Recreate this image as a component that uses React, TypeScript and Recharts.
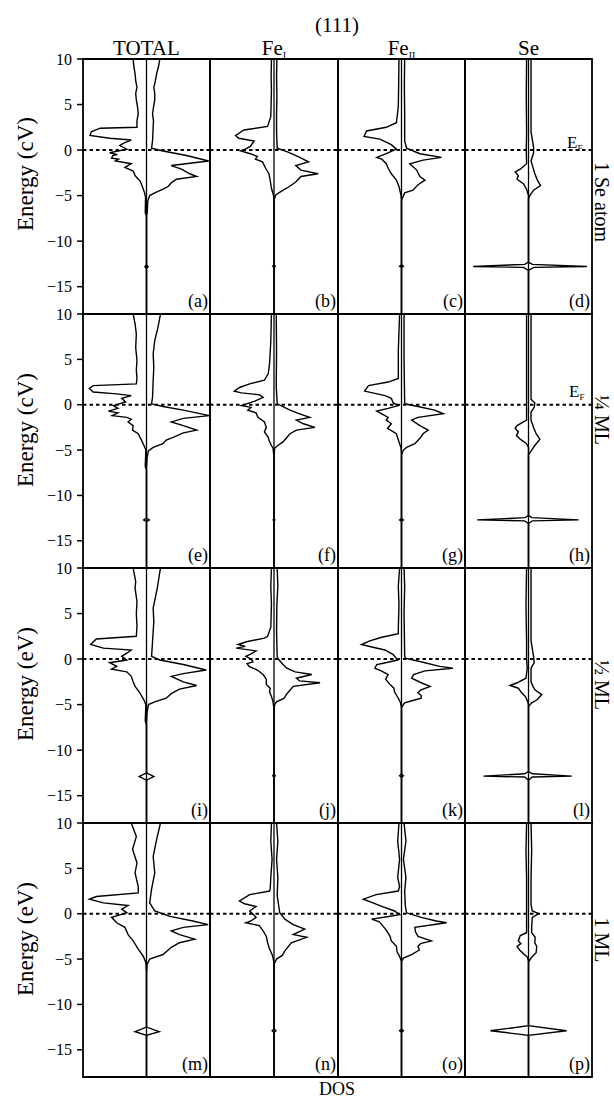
import * as React from "react";
import { ScatterChart, Scatter, XAxis, YAxis, ReferenceLine, ReferenceArea } from "recharts";

// [energy (eV), DOS] pairs, spin up drawn to the left (negative), spin down to the right
type P = [number, number];

const energyTicks = [-15, -10, -5, 0, 5, 10];
const energyDomain = [-18, 10];
const dosDomain = [-10, 10];
const columnNames = ["TOTAL", "Fe", "Fe", "Se"];
const columnSubs = ["", "I", "II", ""];
const rowNames = ["1 Se atom", "\u00BC ML", "\u00BD ML", "1 ML"];
const energyTitles = ["Energy (cV)", "Energy (cV)", "Energy (eV)", "Energy (eV)"];
const panelLetters = [
  ["a", "b", "c", "d"],
  ["e", "f", "g", "h"],
  ["i", "j", "k", "l"],
  ["m", "n", "o", "p"],
];

// ---- row 1: 1 Se atom ----
const totalUp1: P[] = [[10,-2.1],[9.2,-2.0],[8.4,-1.8],[7.6,-1.7],[6.9,-1.5],[6.2,-1.7],[5.5,-1.6],[4.7,-1.4],[4.0,-1.3],[3.2,-1.5],[2.5,-1.5],[2.4,-7.3],[2.0,-8.7],[1.6,-8.9],[1.3,-5.8],[1.1,-2.4],[0.8,-3.5],[0.5,-4.2],[0.1,-3.1],[-0.3,-5.8],[-0.5,-4.6],[-0.6,-5.3],[-0.9,-5.5],[-1.0,-4.4],[-1.2,-4.9],[-1.5,-2.4],[-1.9,-3.4],[-2.3,-2.1],[-2.8,-1.8],[-3.4,-1.0],[-4.1,-0.6],[-4.7,-0.3],[-5.2,-0.15],[-6.9,-0.2],[-7.2,0],[-12.6,0],[-12.8,-0.25],[-13.0,0],[-18,0]];
const totalDn1: P[] = [[10,2.1],[9.2,1.9],[8.4,1.6],[7.6,1.4],[6.9,1.15],[6.2,1.3],[5.5,1.3],[4.7,1.1],[4.0,0.95],[3.2,1.1],[2.5,1.05],[1.8,1.0],[1.0,0.95],[0.2,0.8],[-0.1,2.6],[-0.6,6.3],[-1.2,9.8],[-1.7,3.9],[-2.1,5.5],[-2.6,6.8],[-2.9,7.9],[-3.2,4.7],[-3.6,3.9],[-4.0,3.4],[-4.3,2.6],[-4.7,1.3],[-5.0,0.5],[-5.6,0.2],[-7.0,0.1],[-7.2,0],[-12.6,0],[-12.8,0.25],[-13.0,0],[-18,0]];
const feIUp1: P[] = [[10,-0.4],[8,-0.45],[6.6,-0.4],[5,-0.45],[3.7,-0.5],[2.6,-1.0],[2.2,-4.7],[1.6,-6.0],[1.3,-5.5],[1.0,-3.1],[0.4,-3.7],[0.1,-4.5],[-0.1,-5.2],[-0.4,-3.7],[-0.7,-2.6],[-1.0,-2.9],[-1.3,-1.8],[-2.0,-1.3],[-2.6,-0.8],[-3.3,-0.6],[-4.2,-0.4],[-4.9,-0.1],[-5.5,0],[-12.6,0],[-12.75,-0.2],[-12.9,0],[-18,0]];
const feIDn1: P[] = [[10,0.45],[8,0.4],[6,0.45],[4,0.4],[2,0.4],[0.2,0.5],[-0.2,2.1],[-0.7,3.7],[-1.3,5.4],[-1.7,3.4],[-2.2,4.2],[-2.6,6.9],[-2.9,4.2],[-3.5,3.4],[-4.0,2.4],[-4.6,1.0],[-4.9,0.3],[-5.5,0],[-12.6,0],[-12.75,0.2],[-12.9,0],[-18,0]];
const feIIUp1: P[] = [[10,-0.4],[7,-0.45],[4.8,-0.5],[3.0,-0.8],[2.5,-2.4],[2.1,-5.5],[1.5,-5.9],[1.2,-3.4],[0.6,-1.6],[0.1,-0.8],[-0.4,-2.4],[-0.8,-3.9],[-1.0,-3.1],[-1.5,-2.4],[-2.0,-2.1],[-2.6,-1.6],[-3.3,-0.8],[-4.0,-0.4],[-4.9,-0.1],[-5.5,0],[-12.6,0],[-12.75,-0.3],[-12.9,0],[-18,0]];
const feIIDn1: P[] = [[10,0.5],[7,0.45],[4,0.5],[1,0.5],[0.2,0.8],[-0.4,2.9],[-0.8,6.3],[-1.1,3.4],[-1.5,1.3],[-2.2,2.4],[-2.9,2.9],[-3.3,3.7],[-3.8,2.6],[-4.4,1.8],[-4.7,0.5],[-5.5,0],[-12.6,0],[-12.75,0.3],[-12.9,0],[-18,0]];
const seUp1: P[] = [[10,-0.3],[6,-0.35],[2,-0.3],[0,-0.35],[-1.5,-0.3],[-2.1,-1.3],[-2.4,-2.1],[-2.8,-1.6],[-3.2,-1.8],[-3.7,-0.8],[-4.3,-0.3],[-5,0],[-12.3,0],[-12.55,-0.6],[-12.78,-8.7],[-12.88,-0.8],[-13.2,0],[-18,0]];
const seDn1: P[] = [[10,0.4],[6,0.4],[2,0.4],[0.3,0.8],[-0.3,0.8],[-1.2,0.4],[-1.9,0.7],[-2.6,1.0],[-3.3,1.4],[-3.9,1.9],[-4.4,0.8],[-4.9,0.3],[-5.3,0],[-12.3,0],[-12.55,0.6],[-12.78,9.2],[-12.88,0.8],[-13.2,0],[-18,0]];

// ---- row 2: 1/4 ML ----
const totalUp2: P[] = [[10,-2.1],[8.9,-1.8],[7.8,-1.6],[6.3,-1.7],[4.9,-1.5],[3.8,-1.6],[2.9,-1.5],[2.3,-1.6],[2.1,-8.4],[1.8,-9.0],[1.4,-8.4],[1.2,-4.7],[1.0,-2.4],[0.7,-3.9],[0.3,-3.3],[-0.1,-5.2],[-0.4,-4.5],[-0.7,-6.0],[-0.9,-4.5],[-1.2,-5.4],[-1.4,-3.1],[-1.6,-2.4],[-1.9,-2.9],[-2.3,-2.1],[-2.8,-2.2],[-3.2,-1.3],[-3.9,-0.8],[-4.5,-0.4],[-5.0,-0.1],[-6.8,-0.2],[-7.2,0],[-12.5,0],[-12.7,-0.45],[-12.9,0],[-18,0]];
const totalDn2: P[] = [[10,2.2],[8.5,1.8],[7.1,1.3],[5.6,1.05],[4.1,1.15],[2.7,1.05],[0.8,0.95],[0.1,0.8],[-0.2,2.6],[-0.6,5.8],[-1.2,9.9],[-1.5,5.8],[-1.9,3.9],[-2.3,5.8],[-2.8,7.9],[-3.1,5.8],[-3.6,4.2],[-3.9,3.1],[-4.3,2.6],[-4.7,1.05],[-5.1,0.3],[-5.8,0.1],[-7,0],[-12.5,0],[-12.7,0.45],[-12.9,0],[-18,0]];
const feIUp2: P[] = [[10,-0.4],[7,-0.5],[4.5,-0.7],[3.4,-0.9],[2.7,-1.5],[2.3,-3.8],[1.9,-5.4],[1.5,-6.2],[1.3,-5.1],[1.1,-2.3],[0.8,-1.7],[0.4,-3.0],[-0.1,-5.1],[-0.3,-3.6],[-0.6,-4.1],[-0.9,-2.8],[-1.4,-2.5],[-1.9,-1.5],[-2.5,-1.2],[-3.0,-1.5],[-3.6,-0.9],[-3.9,-0.8],[-4.5,-0.4],[-4.8,-0.15],[-5.8,0],[-12.6,0],[-12.7,-0.15],[-12.8,0],[-18,0]];
const feIDn2: P[] = [[10,0.35],[6,0.4],[2,0.35],[0.1,0.5],[-0.2,1.4],[-0.6,2.5],[-1.0,4.0],[-1.4,5.6],[-1.7,3.5],[-2.1,4.6],[-2.5,6.4],[-2.8,3.5],[-3.2,2.5],[-3.7,1.9],[-4.1,1.4],[-4.5,0.6],[-4.8,0.1],[-5.8,0],[-12.6,0],[-12.7,0.15],[-12.8,0],[-18,0]];
const feIIUp2: P[] = [[10,-0.3],[6,-0.5],[2.9,-0.5],[2.5,-2.1],[2.1,-5.2],[1.5,-5.8],[1.0,-2.6],[0.7,-1.6],[0.2,-1.3],[-0.1,-0.5],[-0.4,-2.1],[-0.7,-3.9],[-1.0,-3.1],[-1.4,-2.1],[-1.7,-2.4],[-2.1,-1.6],[-2.6,-2.2],[-3.2,-0.8],[-3.9,-0.5],[-4.7,-0.1],[-5.5,0],[-12.55,0],[-12.7,-0.3],[-12.85,0],[-18,0]];
const feIIDn2: P[] = [[10,0.4],[5,0.4],[0.1,0.5],[-0.2,2.6],[-0.6,5.2],[-1.0,6.6],[-1.4,2.6],[-1.7,1.6],[-2.3,2.9],[-2.8,4.2],[-3.2,3.4],[-3.7,2.9],[-4.3,2.1],[-4.7,0.8],[-5.0,0.3],[-5.5,0],[-12.55,0],[-12.7,0.3],[-12.85,0],[-18,0]];
const seUp2: P[] = [[10,-0.3],[5,-0.3],[0.5,-0.3],[-1.0,-0.3],[-1.7,-0.3],[-2.3,-1.8],[-2.6,-2.1],[-3.0,-1.6],[-3.4,-1.9],[-3.8,-1.3],[-4.3,-0.3],[-4.7,0],[-12.2,0],[-12.45,-0.5],[-12.7,-8.1],[-12.8,-0.6],[-13.1,0],[-18,0]];
const seDn2: P[] = [[10,0.4],[5,0.4],[0.6,0.4],[0.2,1.0],[-0.3,0.9],[-0.8,0.4],[-1.7,0.4],[-2.5,0.8],[-3.2,1.2],[-3.8,1.8],[-4.5,1.0],[-5.0,0.5],[-5.5,0],[-12.2,0],[-12.45,0.5],[-12.7,7.9],[-12.8,0.6],[-13.1,0],[-18,0]];

// ---- row 3: 1/2 ML ----
const totalUp3: P[] = [[10,-2.1],[8.5,-1.7],[7.8,-1.8],[6.3,-1.5],[5.0,-1.6],[3.6,-1.5],[2.5,-1.6],[2.2,-7.9],[1.6,-8.8],[1.2,-6.8],[1.0,-2.4],[0.7,-3.0],[0.3,-3.9],[-0.1,-3.1],[-0.4,-5.8],[-0.8,-4.7],[-1.1,-5.5],[-1.4,-3.1],[-1.9,-2.4],[-2.5,-2.1],[-3.0,-1.8],[-3.7,-1.05],[-4.5,-0.4],[-5.0,-0.1],[-6.8,-0.2],[-7.2,0],[-12.5,0],[-12.9,-1.15],[-13.3,0],[-18,0]];
const totalDn3: P[] = [[10,2.2],[7.8,1.7],[5.6,1.05],[4.1,1.15],[1.9,0.95],[0.3,0.8],[-0.1,2.1],[-0.6,5.8],[-1.2,9.4],[-1.6,5.8],[-1.9,3.9],[-2.5,5.8],[-2.9,7.9],[-3.3,5.2],[-3.8,3.9],[-4.3,3.1],[-4.7,1.3],[-5.0,0.3],[-5.8,0.1],[-7,0],[-12.5,0],[-12.9,1.15],[-13.3,0],[-18,0]];
const feIUp3: P[] = [[10,-0.4],[8,-0.5],[6,-0.4],[3.5,-0.5],[2.5,-1.0],[2.3,-1.5],[1.9,-4.3],[1.6,-5.6],[1.4,-4.5],[1.2,-5.9],[0.9,-2.8],[0.6,-3.5],[0.3,-4.4],[0,-3.6],[-0.3,-3.3],[-0.5,-4.2],[-0.8,-3.9],[-1.2,-2.6],[-1.7,-1.7],[-2.2,-1.2],[-2.8,-1.2],[-3.2,-0.6],[-3.6,-0.7],[-4.1,-0.4],[-4.7,-0.15],[-5.5,0],[-12.6,0],[-12.8,-0.2],[-13.0,0],[-18,0]];
const feIDn3: P[] = [[10,0.5],[8,0.6],[6,0.45],[3,0.4],[0.2,0.5],[-0.1,0.8],[-0.6,1.4],[-1.0,2.0],[-1.4,3.3],[-1.7,5.9],[-2.1,3.5],[-2.4,4.0],[-2.6,7.2],[-3.0,3.0],[-3.5,2.4],[-3.9,1.9],[-4.3,1.6],[-4.7,0.4],[-5.0,0.1],[-5.5,0],[-12.6,0],[-12.8,0.2],[-13.0,0],[-18,0]];
const feIIUp3: P[] = [[10,-0.3],[8,-0.5],[6,-0.4],[3.3,-0.5],[2.8,-0.5],[2.4,-3.1],[2.0,-5.0],[1.6,-6.3],[1.3,-4.5],[1.0,-2.6],[0.5,-1.3],[-0.1,-0.6],[-0.4,-2.5],[-0.6,-3.9],[-1.0,-4.2],[-1.3,-3.2],[-1.7,-2.1],[-2.2,-2.5],[-2.8,-1.8],[-3.2,-1.2],[-3.6,-1.1],[-4.3,-0.5],[-4.7,-0.2],[-5.3,0],[-12.6,0],[-12.8,-0.3],[-13.0,0],[-18,0]];
const feIIDn3: P[] = [[10,0.4],[8,0.5],[5,0.4],[0.4,0.5],[0.1,0.6],[-0.4,3.7],[-0.8,6.0],[-1.0,8.1],[-1.3,3.7],[-1.7,1.9],[-2.1,1.6],[-2.6,3.1],[-3.0,4.5],[-3.4,3.0],[-3.7,2.6],[-4.0,3.1],[-4.3,3.1],[-4.6,1.5],[-4.8,0.5],[-5.3,0],[-12.6,0],[-12.8,0.3],[-13.0,0],[-18,0]];
const seUp3: P[] = [[10,-0.3],[6,-0.4],[2,-0.3],[0,-0.3],[-1,-0.2],[-2.1,-0.4],[-2.6,-1.8],[-2.9,-2.9],[-3.2,-1.6],[-3.7,-1.1],[-4.1,-0.5],[-4.7,-0.1],[-5.2,0],[-12.35,0],[-12.6,-0.6],[-12.85,-7.1],[-12.95,-0.6],[-13.3,0],[-18,0]];
const seDn3: P[] = [[10,0.4],[6,0.4],[2,0.4],[0.3,0.8],[-0.4,0.9],[-1.0,0.4],[-2.5,0.4],[-3.0,0.7],[-3.4,1.05],[-3.9,2.1],[-4.5,1.3],[-4.8,0.5],[-5.2,0],[-12.35,0],[-12.6,0.6],[-12.85,6.8],[-12.95,0.6],[-13.3,0],[-18,0]];

// ---- row 4: 1 ML ----
const totalUp4: P[] = [[10,-2.4],[8.5,-1.6],[7.1,-2.2],[5.6,-1.5],[4.5,-1.8],[3.0,-1.3],[2.3,-1.3],[1.9,-7.9],[1.6,-9.0],[1.2,-6.8],[0.9,-2.9],[0.5,-3.9],[0.1,-3.1],[-0.4,-5.5],[-1.0,-4.7],[-1.5,-3.4],[-2.3,-2.9],[-3.0,-2.1],[-3.9,-1.3],[-4.7,-0.5],[-5.4,-0.1],[-6.8,0],[-12.5,0],[-13.0,-1.8],[-13.4,0],[-18,0]];
const totalDn4: P[] = [[10,2.2],[8.2,1.6],[6.3,1.05],[4.5,1.3],[2.7,0.8],[1.2,0.5],[0.3,1.3],[-0.3,3.7],[-0.8,7.3],[-1.2,9.7],[-1.5,5.8],[-1.9,3.9],[-2.3,5.2],[-2.8,7.6],[-3.2,5.2],[-3.7,3.9],[-4.5,2.6],[-5.0,0.5],[-5.6,0.1],[-6.8,0],[-12.5,0],[-13.0,2.0],[-13.4,0],[-18,0]];
const feIUp4: P[] = [[10,-0.4],[8,-0.5],[6,-0.3],[4,-0.5],[2.7,-0.6],[2.5,-0.7],[2.1,-3.8],[1.4,-5.4],[1.1,-4.6],[0.8,-2.8],[0.3,-3.8],[-0.4,-2.8],[-0.8,-3.6],[-1.0,-4.4],[-1.3,-2.3],[-2.0,-1.6],[-2.5,-1.2],[-3.2,-1.0],[-3.9,-0.7],[-4.5,-0.3],[-5.0,-0.1],[-5.6,0],[-12.7,0],[-12.9,-0.3],[-13.1,0],[-18,0]];
const feIDn4: P[] = [[10,0.4],[8,0.6],[6,0.4],[4,0.6],[2,0.5],[0.1,0.9],[-0.6,1.7],[-1.2,3.0],[-1.7,4.8],[-2.3,3.0],[-2.6,5.1],[-3.2,2.7],[-4.1,1.7],[-4.6,1.3],[-5.0,0.4],[-5.6,0],[-12.7,0],[-12.9,0.3],[-13.1,0],[-18,0]];
const feIIUp4: P[] = [[10,-0.4],[8,-0.6],[6,-0.3],[4,-0.6],[3.0,-0.3],[2.5,-0.5],[2.1,-4.0],[1.6,-6.0],[1.2,-4.5],[0.8,-3.1],[0.3,-1.1],[-0.1,-0.3],[-0.3,-2.0],[-0.6,-4.7],[-0.9,-3.5],[-1.2,-3.1],[-1.8,-2.4],[-2.5,-1.8],[-3.0,-1.6],[-3.6,-0.8],[-4.2,-0.7],[-4.7,-0.3],[-5.3,0],[-12.7,0],[-12.9,-0.3],[-13.1,0],[-18,0]];
const feIIDn4: P[] = [[10,0.4],[8,0.7],[6,0.3],[4,0.7],[2.5,0.5],[0.9,0.6],[0.1,0.8],[-0.4,3.1],[-0.8,5.5],[-1.0,7.1],[-1.5,2.1],[-2.0,2.2],[-2.5,2.6],[-3.0,4.7],[-3.3,3.0],[-3.6,2.6],[-4.0,2.8],[-4.5,1.6],[-4.9,0.3],[-5.3,0],[-12.7,0],[-12.9,0.3],[-13.1,0],[-18,0]];
const seUp4: P[] = [[10,-0.3],[7,-0.4],[4,-0.3],[1,-0.3],[0,-0.3],[-1.5,-0.3],[-2.1,-0.3],[-2.4,-1.3],[-3.0,-1.6],[-3.3,-1.2],[-3.6,-1.8],[-4.0,-1.4],[-4.4,-0.8],[-4.8,-0.15],[-5.3,0],[-12.35,0],[-12.9,-6.0],[-13.4,0],[-18,0]];
const seDn4: P[] = [[10,0.4],[7,0.5],[4,0.4],[1,0.4],[0.3,0.6],[0,1.6],[-0.4,0.6],[-1.5,0.5],[-2.1,0.5],[-2.6,1.05],[-3.2,1.0],[-3.6,1.3],[-4.3,1.2],[-4.8,0.5],[-5.3,0],[-12.35,0],[-12.9,6.0],[-13.4,0],[-18,0]];

const panelData: { up: P[]; dn: P[] }[][] = [
  [{ up: totalUp1, dn: totalDn1 }, { up: feIUp1, dn: feIDn1 }, { up: feIIUp1, dn: feIIDn1 }, { up: seUp1, dn: seDn1 }],
  [{ up: totalUp2, dn: totalDn2 }, { up: feIUp2, dn: feIDn2 }, { up: feIIUp2, dn: feIIDn2 }, { up: seUp2, dn: seDn2 }],
  [{ up: totalUp3, dn: totalDn3 }, { up: feIUp3, dn: feIDn3 }, { up: feIIUp3, dn: feIIDn3 }, { up: seUp3, dn: seDn3 }],
  [{ up: totalUp4, dn: totalDn4 }, { up: feIUp4, dn: feIDn4 }, { up: feIIUp4, dn: feIIDn4 }, { up: seUp4, dn: seDn4 }],
];

// layout (page pixels)
const FONT = "'Liberation Serif', 'DejaVu Serif', serif";
const COL_X = [83, 210, 338, 465];
const COL_W = [127, 128, 127, 127];
const ROW_Y = [59, 314, 568, 823];
const ROW_H = [255, 254, 255, 254];
const AXIS_W = 50;
const M = { top: 10, right: 2, bottom: 10, left: 2 };
const ROW_LABEL_Y = [202, 420, 685, 940];
const ENERGY_LABEL_Y = [174, 430, 684, 939];

const noShape = () => <g />;
const fmtTick = (v: number) => (v < 0 ? `\u2212${-v}` : `${v}`);

function Panel({ up, dn, x, y, w, h, axis }: { up: P[]; dn: P[]; x: number; y: number; w: number; h: number; axis: boolean }) {
  const aw = axis ? AXIS_W : 0;
  const upPts = up.map(([e, d]) => ({ e, d }));
  const dnPts = dn.map(([e, d]) => ({ e, d }));
  return (
    <div style={{ position: "absolute", left: x - M.left - aw, top: y - M.top }}>
      <ScatterChart width={w + aw + M.left + M.right} height={h + M.top + M.bottom} margin={M}>
        <XAxis type="number" dataKey="d" domain={dosDomain} hide allowDataOverflow />
        <YAxis
          type="number"
          dataKey="e"
          domain={energyDomain}
          ticks={energyTicks}
          hide={!axis}
          width={aw}
          interval={0}
          tickSize={6}
          tickMargin={5}
          axisLine={false}
          tickLine={{ stroke: "#000", strokeWidth: 1.5 }}
          tick={{ fill: "#000", fontSize: 16, fontFamily: FONT }}
          tickFormatter={fmtTick}
          allowDataOverflow
        />
        <ReferenceArea x1={-10} x2={10} y1={-18} y2={10} fill="none" stroke="#000" strokeWidth={1.8} ifOverflow="visible" />
        <ReferenceLine x={0} stroke="#000" strokeWidth={1.3} />
        <ReferenceLine y={0} stroke="#000" strokeWidth={2} strokeDasharray="3.5 3" />
        <Scatter data={upPts} fill="#000" line={{ stroke: "#000", strokeWidth: 1.4 }} shape={noShape} isAnimationActive={false} />
        <Scatter data={dnPts} fill="#000" line={{ stroke: "#000", strokeWidth: 1.4 }} shape={noShape} isAnimationActive={false} />
      </ScatterChart>
    </div>
  );
}

export default function App() {
  return (
    <div style={{ position: "absolute", left: 0, top: 0, width: 614, height: 1098, background: "#fff", fontFamily: FONT }}>
      {panelData.map((row, r) =>
        row.map((p, c) => (
          <Panel key={`${r}-${c}`} up={p.up} dn={p.dn} x={COL_X[c]} y={ROW_Y[r]} w={COL_W[c]} h={ROW_H[r]} axis={c === 0} />
        ))
      )}
      <svg width={614} height={1098} style={{ position: "absolute", left: 0, top: 0, pointerEvents: "none" }} fontFamily={FONT} fill="#000">
        <text x={337} y={32} textAnchor="middle" fontSize={21}>(111)</text>
        {columnNames.map((name, c) => (
          <text key={name + c} x={COL_X[c] + COL_W[c] / 2} y={55} textAnchor="middle" fontSize={21}>
            {name}
            {columnSubs[c] && <tspan fontSize={10} dy={4}>{columnSubs[c]}</tspan>}
          </text>
        ))}
        {energyTitles.map((t, r) => (
          <text key={"en" + r} transform={`translate(25, ${ENERGY_LABEL_Y[r]}) rotate(-90)`} textAnchor="middle" dominantBaseline="central" fontSize={23}>
            {t}
          </text>
        ))}
        {rowNames.map((t, r) => (
          <text key={"rn" + r} transform={`translate(602, ${ROW_LABEL_Y[r]}) rotate(90)`} textAnchor="middle" dominantBaseline="central" fontSize={20}>
            {t}
          </text>
        ))}
        <text x={567} y={148} fontSize={17}>E<tspan fontSize={9} dy={3}>F</tspan></text>
        <text x={569} y={397} fontSize={17}>E<tspan fontSize={9} dy={3}>F</tspan></text>
        {panelLetters.map((row, r) =>
          row.map((l, c) => (
            <text key={l} x={COL_X[c] + COL_W[c] - 2} y={ROW_Y[r] + ROW_H[r] - 7} textAnchor="end" fontSize={18}>
              ({l})
            </text>
          ))
        )}
        <text x={337} y={1095} textAnchor="middle" fontSize={18}>DOS</text>
      </svg>
    </div>
  );
}
